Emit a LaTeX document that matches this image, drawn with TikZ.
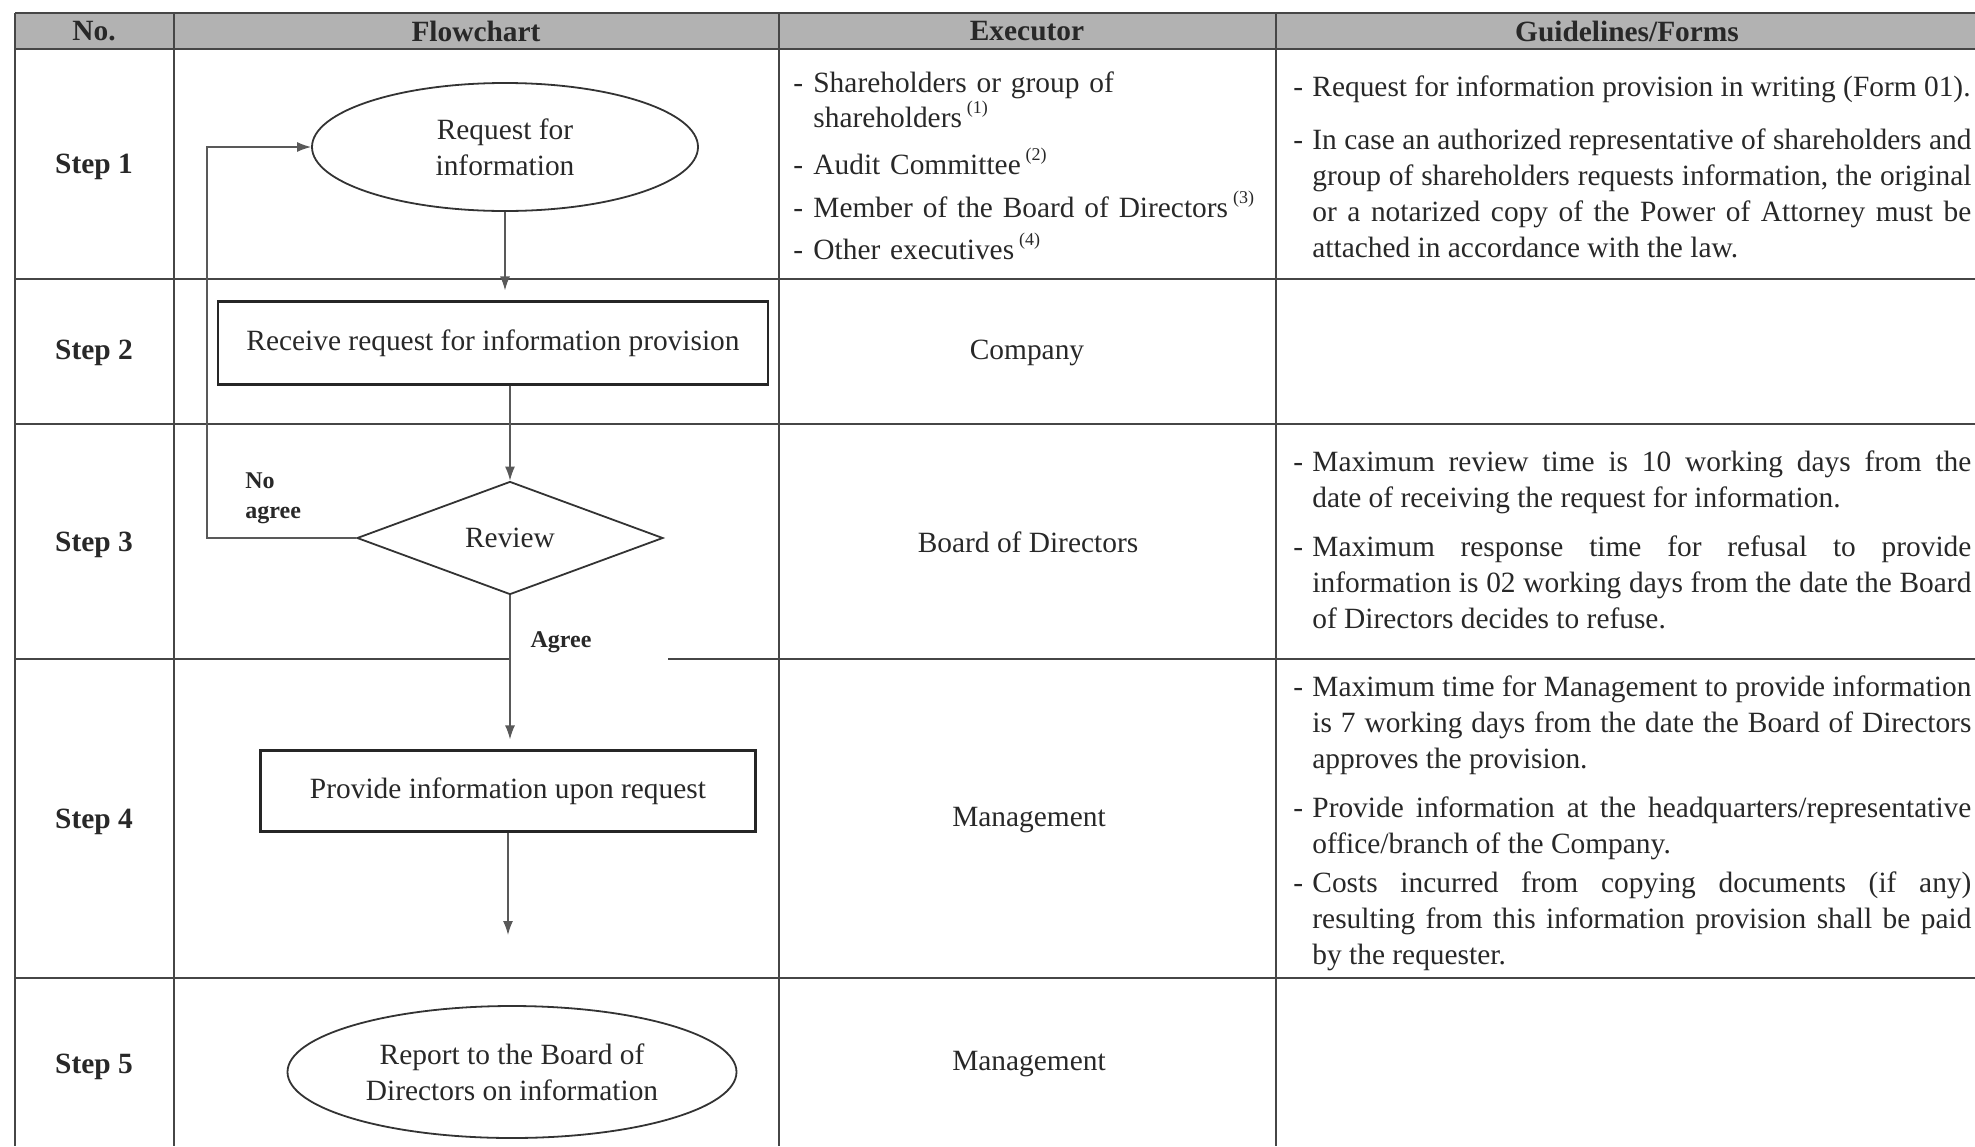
\documentclass[tikz,border=0pt]{standalone}
\usepackage{fontspec}
\setmainfont{Liberation Serif}
\usetikzlibrary{shapes.geometric,positioning,arrows.meta}

\definecolor{inkgray}{RGB}{40,40,40}
\definecolor{headgray}{RGB}{178,178,178}
\definecolor{rulegray}{RGB}{70,70,70}

\newcommand{\fnmark}[1]{\,\raisebox{0.45em}{\fontsize{9}{9}\selectfont(#1)}}
\newcommand{\gline}[1]{\hangindent=9.5pt\hangafter=1\noindent\makebox[9.5pt][l]{-}#1\par}
\newcommand{\eline}[1]{\hyphenpenalty=10000\relax\hangindent=10pt\hangafter=1\noindent\makebox[10pt][l]{-}#1\par}

\tikzset{
  txt/.style={font=\fontsize{14.7}{18}\selectfont, text=inkgray, inner sep=0pt},
  headtxt/.style={txt, font=\fontsize{14.7}{18}\selectfont\bfseries},
  steplbl/.style={txt, font=\fontsize{14.7}{18}\selectfont\bfseries},
  guide/.style={txt, anchor=north west, text width=339pt, align=justify},
  exec/.style={txt, anchor=north west, text width=236pt, align=left, font=\fontsize{14.7}{17.5}\selectfont},
  term/.style={txt, ellipse, draw=black!80, line width=0.9pt, align=center},
  proc/.style={txt, rectangle, draw=black!85, line width=1.1pt},
  decide/.style={txt, diamond, draw=black!80, line width=0.9pt},
  branch/.style={txt, font=\fontsize{12}{15}\selectfont\bfseries, align=left},
  flow/.style={->, line width=0.7pt, draw=black!65},
  tabline/.style={line width=1.1pt, draw=rulegray},
}

\begin{document}
\begin{tikzpicture}[x=0.5pt,y=-0.5pt,>={Latex[length=7pt,width=5pt]}]
	\useasboundingbox (0,0) rectangle (1975,1146);
	% table frame
	\fill[headgray] (15,13) rectangle (1975,49);
	\draw[tabline] (15,13) -- (1975,13);
	\draw[tabline] (15,49) -- (1975,49);
	\foreach \y in {279,424,978}
		\draw[tabline] (15,\y) -- (1975,\y);
	\draw[tabline] (15,659) -- (510,659);
	\draw[tabline] (668,659) -- (1975,659);
	\foreach \x in {15,174,779,1276}
		\draw[tabline] (\x,13) -- (\x,1146);
	% header
	\node[headtxt] (hno) at (94,31) {No.};
	\node[headtxt] (hflow) at (476,31) {Flowchart};
	\node[headtxt] (hexec) at (1027,31) {Executor};
	\node[headtxt] (hguide) at (1627,31) {Guidelines/Forms};
	% steps
	\node[steplbl] (s1) at (94,167) {Step 1};
	\node[steplbl] (s2) at (94,353) {Step 2};
	\node[steplbl] (s3) at (94,545) {Step 3};
	\node[steplbl] (s4) at (94,822) {Step 4};
	\node[steplbl] (s5) at (94,1067) {Step 5};
	% flowchart
	\node[term, minimum width=193pt, minimum height=64pt] (req) at (505,147) {Request for\\information};
	\node[proc, minimum width=275pt, minimum height=41.5pt] (recv) at (493,343) {Receive request for information provision};
	\node[decide, minimum width=153pt, minimum height=56.5pt] (rev) at (510,538) {Review};
	\node[proc, minimum width=247.5pt, minimum height=40.5pt] (prov) at (508,791) {Provide information upon request};
	\node[term, minimum width=224.5pt, minimum height=66pt] (rep) at (512,1072) {Report to the Board of\\Directors on information};
	\coordinate (bend) at (207,538);
	\coordinate (stop) at (508,935);
	\draw[flow, shorten >=5pt] (req.south) -- (req.south |- recv.north);
	\draw[flow] (rev.north |- recv.south) -- (rev.north);
	\draw[flow] (rev.west) -- (bend) |- (req.west);
	\draw[flow, shorten >=5pt] (rev.south) -- (rev.south |- prov.north);
	\draw[flow] (prov.south) -- (stop);
	\node[branch, anchor=west] (no) at (245,498) {No\\agree};
	\node[branch] (yes) at (561,642) {Agree};
	% executor
	\node[exec] (e1) at (793,71) {\eline{Shareholders or group of\newline shareholders\fnmark{1}}};
	\node[exec] (e2) at (793,148) {\eline{Audit Committee\fnmark{2}}};
	\node[exec] (e3) at (793,191) {\eline{Member of the Board of Directors\fnmark{3}}};
	\node[exec] (e4) at (793,233) {\eline{Other executives\fnmark{4}}};
	\node[txt] (x2) at (1027,353) {Company};
	\node[txt] (x3) at (1028,542) {Board of Directors};
	\node[txt] (x4) at (1029,820) {Management};
	\node[txt] (x5) at (1029,1064) {Management};
	% guidelines
	\node[guide] (g1a) at (1293,75) {\gline{Request for information provision in writing (Form 01).}};
	\node[guide] (g1b) at (1293,128) {\gline{In case an authorized representative of shareholders and\linebreak group of shareholders requests information, the original\linebreak or a notarized copy of the Power of Attorney must be\linebreak attached in accordance with the law.}};
	\node[guide] (g3a) at (1293,450) {\gline{Maximum review time is 10 working days from the\linebreak date of receiving the request for information.}};
	\node[guide] (g3b) at (1293,535) {\gline{Maximum response time for refusal to provide\linebreak information is 02 working days from the date the Board\linebreak of Directors decides to refuse.}};
	\node[guide] (g4a) at (1293,675) {\gline{Maximum time for Management to provide information\linebreak is 7 working days from the date the Board of Directors\linebreak approves the provision.}};
	\node[guide] (g4b) at (1293,796) {\gline{Provide information at the headquarters/representative\linebreak office/branch of the Company.}};
	\node[guide] (g4c) at (1293,871) {\gline{Costs incurred from copying documents (if any)\linebreak resulting from this information provision shall be paid\linebreak by the requester.}};
\end{tikzpicture}
\end{document}
